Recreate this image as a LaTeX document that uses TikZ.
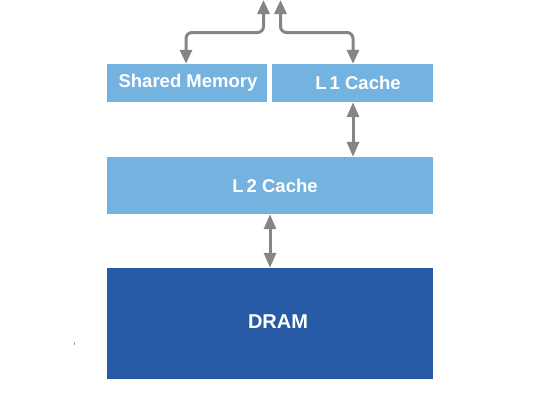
\documentclass[tikz,border=0pt]{standalone}
\usepackage{fontspec}
\setmainfont{Liberation Sans}
\usetikzlibrary{arrows.meta}
\definecolor{lightbox}{HTML}{74B3DF}
\definecolor{darkbox}{HTML}{285BA5}
\definecolor{arrowgray}{HTML}{858585}
\tikzset{
  lbox/.style={fill=lightbox, draw=none, minimum height=38pt, inner sep=0pt},
  dbox/.style={fill=darkbox, draw=none, inner sep=0pt},
  lbl/.style={text=white, font=\fontsize{18.5}{20}\selectfont\bfseries, inner sep=0pt},
  link/.style={draw=arrowgray, line width=3pt, rounded corners=6pt,
    {Triangle[length=15pt,width=12pt]}-{Triangle[length=15pt,width=12pt]}},
  uplink/.style={draw=arrowgray, line width=3pt, rounded corners=6pt,
    {Triangle[length=14pt,width=12pt]}-{Triangle[length=14pt,width=12pt]}},
}
\begin{document}
\begin{tikzpicture}[x=1pt,y=-1pt]
\useasboundingbox (0,0) rectangle (550,400);
% boxes
\node[lbox, minimum width=160pt] (sm) at (186.5,83) {};
\node[lbox, minimum width=161pt] (l1) at (352.5,83) {};
\node[lbox, minimum width=326pt, minimum height=57pt] (l2) at (270,185.5) {};
\node[dbox, minimum width=326pt, minimum height=111pt] (dram) at (270,323.5) {};
% labels
\node[lbl] (smt) at (188,83) {Shared Memory};
\node[lbl] (l1t) at (358,83) {L\,1 Cache};
\node[lbl] (l2t) at (275,185.5) {L\,2 Cache};
\node[lbl, font=\fontsize{20}{22}\selectfont\bfseries] (dramt) at (278,322) {DRAM};
% free ends at the top
\coordinate (topl) at (263.5,0);
\coordinate (topr) at (280.5,0);
% connectors
\draw[uplink] (sm.north -| 186,0) -- (186,32.5) -- (263.5,32.5) -- (topl);
\draw[uplink] (l1.north -| 353,0) -- (353,32.5) -- (280.5,32.5) -- (topr);
\draw[link] (l1.south -| 353,0) -- (l2.north -| 353,0);
\draw[link] (l2.south) -- (dram.north);
% stray dot
\fill[lightbox!70!gray] (73.5,342) rectangle (75,345);
\end{tikzpicture}
\end{document}
